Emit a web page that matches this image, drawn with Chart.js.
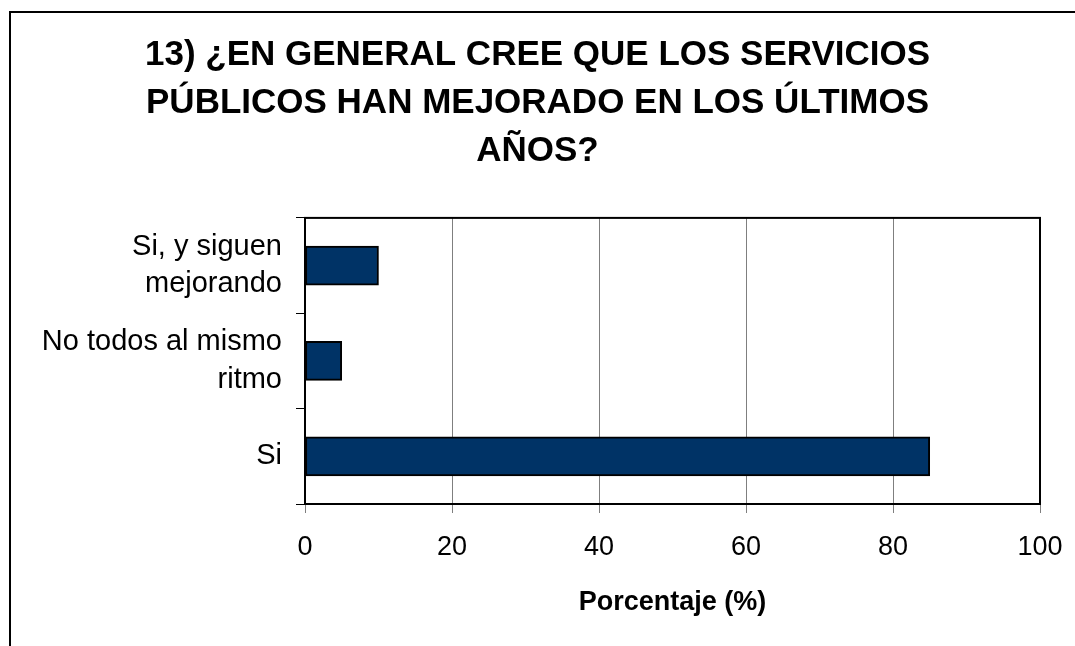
<!DOCTYPE html>
<html>
<head>
<meta charset="utf-8">
<script src="https://cdn.jsdelivr.net/npm/chart.js@4"></script>
<style>
  body { margin: 0; background: #fff; }
  #wrap { width: 1075px; height: 646px; position: relative; }
</style>
</head>
<body>
<div id="wrap"><canvas id="myChart"></canvas></div>
<script>
var titleLines = ["13) ¿EN GENERAL CREE QUE LOS SERVICIOS", "PÚBLICOS HAN MEJORADO EN LOS ÚLTIMOS", "AÑOS?"];
var categories = [["Si, y siguen", "mejorando"], ["No todos al mismo", "ritmo"], "Si"];
var values = [10, 5, 85];
var xMin = 0;
var xMax = 100;
var xStep = 20;
var xTitle = "Porcentaje (%)";

var fam = "'Liberation Sans', Arial, sans-serif";

// outer frame and plot box
var frames = {
  id: "frames",
  beforeDraw: function(chart) {
    var ctx = chart.ctx;
    ctx.save();
    ctx.fillStyle = "#fff";
    ctx.fillRect(0, 0, chart.width, chart.height);
    ctx.strokeStyle = "#000";
    ctx.lineWidth = 2;
    ctx.strokeRect(10, 12, 2000, 2000);
    ctx.restore();
  },
  afterDraw: function(chart) {
    var a = chart.chartArea;
    var ctx = chart.ctx;
    ctx.save();
    ctx.strokeStyle = "#000";
    ctx.lineWidth = 2;
    ctx.strokeRect(a.left, a.top, a.right - a.left, a.bottom - a.top);
    ctx.restore();
  }
};

var ctx = document.getElementById("myChart").getContext("2d");
var myChart = new Chart(ctx, {
  type: "bar",
  data: {
    labels: categories,
    datasets: [
      {
        data: values,
        backgroundColor: "#003366",
        borderColor: "#000",
        borderWidth: 2,
        borderSkipped: false,
        barThickness: 39
      }
    ]
  },
  options: {
    indexAxis: "y",
    responsive: true,
    maintainAspectRatio: false,
    animation: false,
    layout: { padding: { top: 20, right: 35, bottom: 0, left: 35 } },
    plugins: {
      legend: { display: false },
      tooltip: { enabled: false },
      title: {
        display: true,
        text: titleLines,
        color: "#000",
        font: { family: fam, size: 35, weight: "bold", lineHeight: 1.38 },
        padding: { top: 11, bottom: 42 }
      }
    },
    scales: {
      x: {
        min: xMin,
        max: xMax,
        ticks: {
          stepSize: xStep,
          color: "#000",
          padding: 18,
          font: { family: fam, size: 27, lineHeight: 1.2 }
        },
        grid: { color: "#7f7f7f", lineWidth: 1, tickLength: 9 },
        border: { color: "#000", width: 2 },
        title: {
          display: true,
          text: xTitle,
          color: "#000",
          font: { family: fam, size: 27, weight: "bold", lineHeight: 1.2 },
          padding: { top: 0, bottom: 27 }
        },
        afterFit: function(scale) {
          scale.height = 142;
          scale.paddingLeft = 0;
          scale.paddingRight = 0;
        }
      },
      y: {
        ticks: {
          color: "#000",
          padding: 14,
          font: { family: fam, size: 29, lineHeight: 1.3 }
        },
        grid: { drawOnChartArea: false, color: "#000", tickLength: 9, offset: true },
        border: { color: "#000", width: 2 },
        afterFit: function(scale) { scale.width = 270; }
      }
    }
  },
  plugins: [frames]
});
</script>
</body>
</html>
